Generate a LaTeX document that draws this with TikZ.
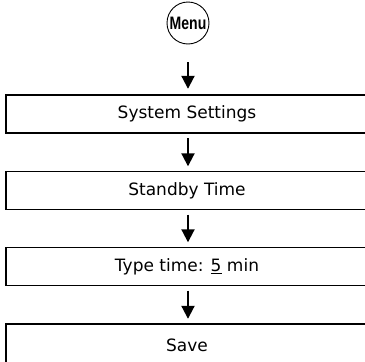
\documentclass[tikz,border=0pt]{standalone}
\usepackage{fontspec}
\setmainfont{DejaVu Sans}
\newfontfamily\menufont[FakeStretch=0.78]{Liberation Sans}
\usetikzlibrary{arrows.meta,calc}
\tikzset{
  stepbox/.style={rectangle, minimum width=362pt, minimum height=38pt, inner sep=0pt, font=\fontsize{17}{20}\selectfont},
  boxline/.style={draw, line width=1.5pt},
  flow/.style={line width=2pt, -{Triangle[length=13pt,width=13pt]}},
  menucircle/.style={draw, circle, line width=0.9pt, minimum size=42pt, inner sep=0pt, font=\menufont\bfseries\fontsize{18}{20}\selectfont}
}
\begin{document}
\begin{tikzpicture}[x=1pt,y=-1pt]
\useasboundingbox (0,0) rectangle (365,362);
\clip (0,0) rectangle (365,362);
\node[menucircle] (m) at (188,23) {Menu};
\node[stepbox] (b1) at (187,114) {System Settings};
\node[stepbox] (b2) at (187,190.5) {Standby Time};
\node[stepbox] (b3) at (187,266.5) {Type time: \underline{5} min};
\node[stepbox, minimum height=42pt] (b4) at (187,345) {Save};
\foreach \b in {b1,b2,b3,b4}
  \draw[boxline] (\b.north west) rectangle ([xshift=12pt]\b.south east);
\draw[flow, shorten <=18pt, shorten >=6pt] (m.south) -- (m |- b1.north);
\draw[flow, shorten <=5pt, shorten >=5pt] (m |- b1.south) -- (m |- b2.north);
\draw[flow, shorten <=5pt, shorten >=5pt] (m |- b2.south) -- (m |- b3.north);
\draw[flow, shorten <=5pt, shorten >=5pt] (m |- b3.south) -- (m |- b4.north);
\end{tikzpicture}
\end{document}
